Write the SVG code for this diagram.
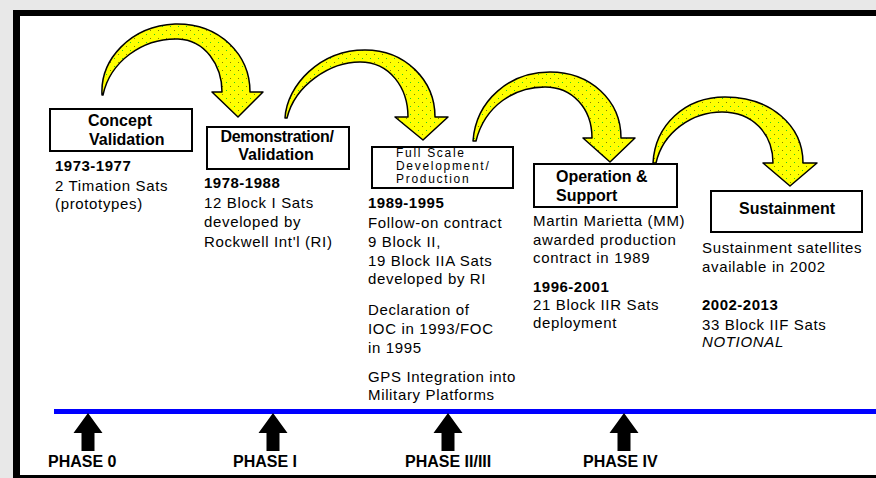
<svg xmlns="http://www.w3.org/2000/svg" width="876" height="478" viewBox="0 0 876 478">
<style>
.box{fill:#fff;stroke:#000;stroke-width:2}
.hd{font-family:"Liberation Sans",Arial,sans-serif;font-weight:bold;font-size:16px;fill:#000}
.sm{font-family:"Liberation Sans",Arial,sans-serif;font-size:12px;letter-spacing:1.7px;fill:#000}
.tx{font-family:"Liberation Sans",Arial,sans-serif;font-size:15px;letter-spacing:0.65px;fill:#000}
.yr{font-family:"Liberation Sans",Arial,sans-serif;font-weight:bold;font-size:15px;letter-spacing:0.5px;fill:#000}
.it{font-style:italic}
.ph{font-family:"Liberation Sans",Arial,sans-serif;font-weight:bold;font-size:16px;fill:#000}
.carrow{fill:url(#dots);stroke:#000;stroke-width:1.5;stroke-linejoin:round}
</style>
<defs>
<pattern id="dots" width="8" height="8" patternUnits="userSpaceOnUse">
<rect width="8" height="8" fill="#ffff00"/>
<rect x="2" y="2" width="1" height="1" fill="#22cc22"/>
<rect x="6" y="6" width="1" height="1" fill="#808000"/>
</pattern>
<path id="up" d="M0,0 L14.5,20 L6.5,20 L6.5,38 L-6.5,38 L-6.5,20 L-14.5,20 Z" fill="#000"/>
</defs>
<rect width="876" height="478" fill="#e8e8e8"/>
<rect x="13" y="10" width="863" height="468" fill="#000"/>
<rect x="20" y="16" width="856" height="459" fill="#fff"/>

<g id="connectors">
<path class="carrow" d="M102,95 C100,60 130,26 175,24 C220,23 250,55 250,92 L263,92 L238,117 L212,92 L222,92 C222,65 205,40 178,39 C142,38 110,62 103,95 Z"/>
<path class="carrow" d="M285,118 C287,85 320,50 365,50 C405,50 435,80 435,117 L448,117 L423,140 L395,117 L408,117 C408,88 390,62 360,62 C330,62 295,85 287,118 Z"/>
<path class="carrow" d="M473,141 C476,100 510,72 550,72 C590,72 621,100 621,138 L635,138 L610,162 L583,138 L592,138 C592,108 572,87 545,87 C515,87 485,105 476,141 Z"/>
<path class="carrow" d="M653,163 C655,125 685,97 725,97 C770,97 803,125 803,163 L817,163 L790,186 L763,163 L773,163 C773,133 752,112 722,112 C692,112 663,132 656,163 Z"/>
</g>

<g id="concept">
<rect class="box" x="50" y="109" width="142" height="42"/>
<text class="hd" x="88" y="126">Concept</text>
<text class="hd" x="89" y="145">Validation</text>
<text class="yr" x="55" y="171">1973-1977</text>
<text class="tx" x="55" y="191">2 Timation Sats</text>
<text class="tx" x="55" y="209">(prototypes)</text>
</g>

<g id="demonstration">
<rect class="box" x="207" y="127" width="142" height="42"/>
<text class="hd" x="277" y="142" text-anchor="middle" letter-spacing="-0.3">Demonstration/</text>
<text class="hd" x="276" y="160" text-anchor="middle">Validation</text>
<text class="yr" x="204" y="188">1978-1988</text>
<text class="tx" x="204" y="208">12 Block I Sats</text>
<text class="tx" x="204" y="227">developed by</text>
<text class="tx" x="204" y="247">Rockwell Int'l (RI)</text>
</g>

<g id="fsd">
<rect class="box" x="372" y="147" width="141" height="41"/>
<text class="sm" x="396" y="157">Full Scale</text>
<text class="sm" x="396" y="170">Development/</text>
<text class="sm" x="396" y="183">Production</text>
<text class="yr" x="368" y="208">1989-1995</text>
<text class="tx" x="368" y="228">Follow-on contract</text>
<text class="tx" x="368" y="247">9 Block II,</text>
<text class="tx" x="368" y="266">19 Block IIA Sats</text>
<text class="tx" x="368" y="284">developed by RI</text>
<text class="tx" x="368" y="315">Declaration of</text>
<text class="tx" x="368" y="334">IOC in 1993/FOC</text>
<text class="tx" x="368" y="353">in 1995</text>
<text class="tx" x="368" y="382">GPS  Integration into</text>
<text class="tx" x="368" y="400">Military Platforms</text>
</g>

<g id="operation">
<rect class="box" x="534" y="164" width="143" height="43"/>
<text class="hd" x="556" y="182">Operation &amp;</text>
<text class="hd" x="556" y="201">Support</text>
<text class="tx" x="533" y="226">Martin Marietta (MM)</text>
<text class="tx" x="533" y="245">awarded production</text>
<text class="tx" x="533" y="263">contract in 1989</text>
<text class="yr" x="533" y="292">1996-2001</text>
<text class="tx" x="533" y="310">21 Block IIR Sats</text>
<text class="tx" x="533" y="328">deployment</text>
</g>

<g id="sustainment">
<rect class="box" x="711" y="191" width="151" height="41"/>
<text class="hd" x="787" y="214" text-anchor="middle">Sustainment</text>
<text class="tx" x="702" y="253">Sustainment satellites</text>
<text class="tx" x="702" y="272">available in 2002</text>
<text class="yr" x="702" y="310">2002-2013</text>
<text class="tx" x="702" y="330">33 Block IIF Sats</text>
<text class="tx it" x="702" y="347">NOTIONAL</text>
</g>

<g id="timeline">
<rect x="54" y="409" width="822" height="5" fill="#0000ff"/>
</g>

<g id="phase0">
<use href="#up" x="88" y="413"/>
<text class="ph" x="48" y="467">PHASE 0</text>
</g>
<g id="phase1">
<use href="#up" x="273" y="413"/>
<text class="ph" x="233" y="467">PHASE I</text>
</g>
<g id="phase23">
<use href="#up" x="448" y="413"/>
<text class="ph" x="405" y="467">PHASE II/III</text>
</g>
<g id="phase4">
<use href="#up" x="624" y="413"/>
<text class="ph" x="583" y="467">PHASE IV</text>
</g>
</svg>
